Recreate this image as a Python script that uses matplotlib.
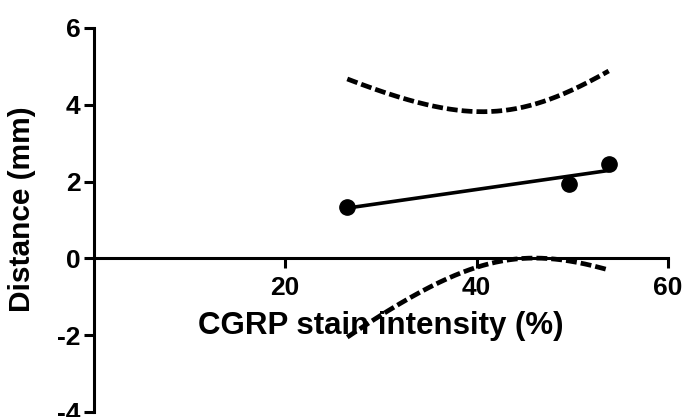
import numpy as np
import matplotlib.pyplot as plt

plt.rcParams['font.family'] = ['Liberation Sans', 'DejaVu Sans']
plt.rcParams['font.weight'] = 'bold'

# CGRP stain intensity (%) vs distance (mm)
cgrp = np.array([26.5, 49.7, 53.8])
distance = np.array([1.34, 1.94, 2.46])

x_ticks = [20, 40, 60]
y_ticks = [-4, -2, 0, 2, 4, 6]

# linear fit and 95% confidence band (df = n - 2 = 1)
t_crit = 12.706
slope, intercept = np.polyfit(cgrp, distance, 1)
n = len(cgrp)
resid = distance - (slope * cgrp + intercept)
s = np.sqrt(np.sum(resid ** 2) / (n - 2))
xm = cgrp.mean()
sxx = np.sum((cgrp - xm) ** 2)
xf = np.linspace(cgrp.min(), cgrp.max(), 200)
yf = slope * xf + intercept
half = t_crit * s * np.sqrt(1 / n + (xf - xm) ** 2 / sxx)

fig = plt.figure(figsize=(6.84, 4.17), dpi=100)
ax = fig.add_axes([0.1367, 0.012, 0.840, 0.921])

ax.plot(xf, yf, color='black', lw=2.6, solid_capstyle='butt')
for band in (yf + half, yf - half):
    ax.plot(xf, band, color='black', lw=3.4, dashes=(2.3, 0.85), dash_capstyle='butt')
ax.plot(cgrp, distance, 'o', color='black', markersize=11)

ax.set_xlim(0, 60)
ax.set_ylim(-4, 6)
ax.set_xticks(x_ticks)
ax.set_yticks(y_ticks)
ax.set_xticklabels([str(v) for v in x_ticks])
ax.set_yticklabels([str(v) for v in y_ticks])

ax.spines['top'].set_visible(False)
ax.spines['right'].set_visible(False)
ax.spines['bottom'].set_position(('data', 0))
for sp in ('left', 'bottom'):
    ax.spines[sp].set_linewidth(2.2)
ax.tick_params(width=2.2, length=7.5, labelsize=19)
ax.tick_params(axis='x', pad=5)
ax.tick_params(axis='y', pad=2)

ax.set_xlabel('CGRP stain intensity (%)', fontsize=22.5, fontweight='bold')
ax.set_ylabel('Distance (mm)', fontsize=21.5, fontweight='bold')
ax.xaxis.set_label_coords(0.5, 0.262)
ax.yaxis.set_label_coords(-0.100, 0.529)

fig.savefig('out.png', dpi=100)
